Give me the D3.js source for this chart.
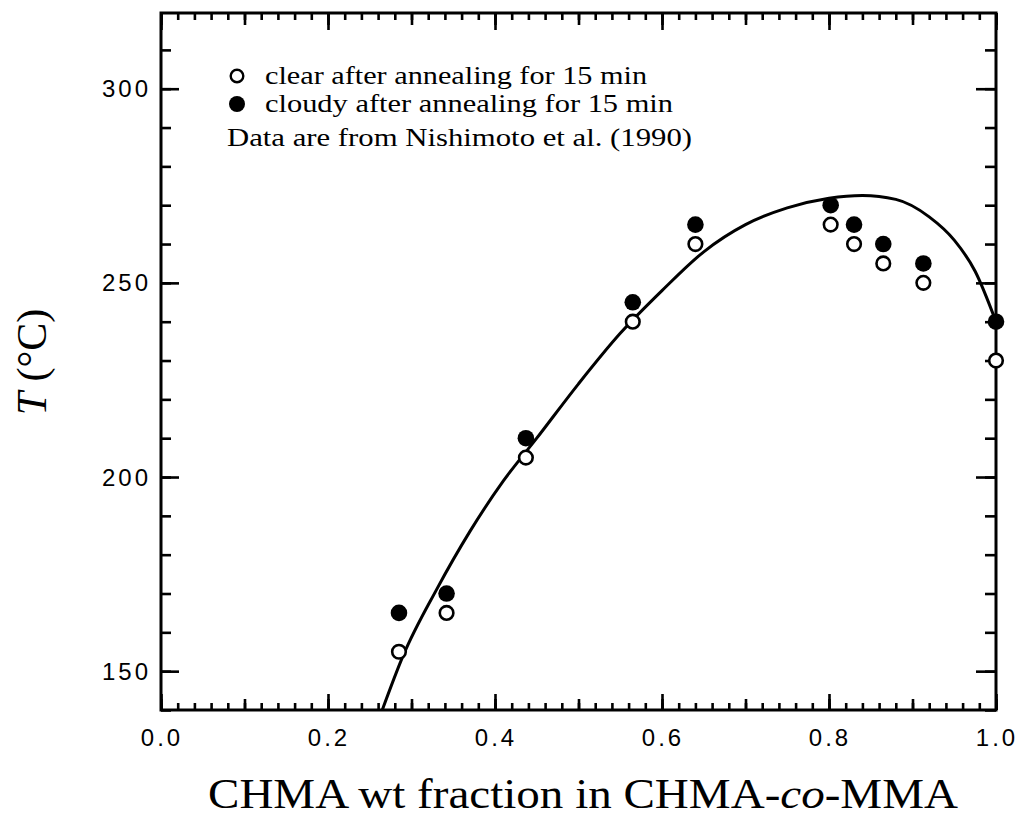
<!DOCTYPE html>
<html>
<head>
<meta charset="utf-8">
<script src="https://cdn.jsdelivr.net/npm/d3@7"></script>
<style>
  body { margin: 0; background: #fff; }
  svg { display: block; }
</style>
</head>
<body>
<div class="chart"></div>
<script>
// data
const fraction = [0.285, 0.342, 0.437, 0.565, 0.64, 0.802, 0.83, 0.865, 0.913, 1.0]
const clearT = [155, 165, 205, 240, 260, 265, 260, 255, 250, 230]
const cloudyT = [165, 170, 210, 245, 265, 270, 265, 260, 255, 240]

// fitted curve as drawn
const curveX = [0.265, 0.29, 0.33, 0.37, 0.41, 0.45, 0.5, 0.55, 0.6, 0.65, 0.7, 0.75, 0.8, 0.84, 0.88, 0.92, 0.95, 0.975, 1.0]
const curveT = [140, 154, 171, 186, 199, 210, 224, 237, 248, 258, 265, 269.3, 271.8, 272.5, 271.5, 267, 261, 253, 240]

const xTickLabels = [0, 0.2, 0.4, 0.6, 0.8, 1.0]
const yTickLabels = [150, 200, 250, 300]
const legendLabels = ['clear after annealing for 15 min', 'cloudy after annealing for 15 min']
const legendWidths = [382, 408]

const dimensions = {
    width: 1019,
    height: 820,
    left: 161,
    right: 996,
    top: 13,
    bottom: 710
}

const svg = d3.select('.chart')
    .append('svg')
    .attr('width', dimensions.width)
    .attr('height', dimensions.height)

const x = d3.scaleLinear().domain([0, 1]).range([dimensions.left, dimensions.right])
const y = d3.scaleLinear().domain([140, 319.5]).range([dimensions.bottom, dimensions.top])

const sansFont = '"Liberation Sans", Arial, Helvetica, sans-serif'
const serifFont = '"Liberation Serif", "Times New Roman", Times, serif'

// tick marks, all pointing inward
const minorX = d3.range(0, 51).map(i => i / 50)
const midX = d3.range(0, 11).map(i => i / 10)
const majorX = d3.range(0, 6).map(i => i / 5)
const minorY = d3.range(140, 320, 10)
const majorY = d3.range(150, 320, 50)

function tickLayer(axis, transform) {
    const g = svg.append('g')
        .attr('transform', transform)
        .call(axis)
    g.select('.domain').remove()
    g.selectAll('text').remove()
    g.selectAll('line').attr('stroke', '#000').attr('stroke-width', 2.6)
    return g
}

const bottomT = `translate(0,${dimensions.bottom})`
const topT = `translate(0,${dimensions.top})`
const leftT = `translate(${dimensions.left},0)`
const rightT = `translate(${dimensions.right},0)`

tickLayer(d3.axisBottom(x).tickValues(minorX).tickSize(-7), bottomT)
tickLayer(d3.axisBottom(x).tickValues(midX).tickSize(-11), bottomT)
tickLayer(d3.axisBottom(x).tickValues(majorX).tickSize(-16), bottomT)
tickLayer(d3.axisTop(x).tickValues(minorX).tickSize(-7), topT)
tickLayer(d3.axisTop(x).tickValues(midX).tickSize(-12), topT)
tickLayer(d3.axisTop(x).tickValues(majorX).tickSize(-17), topT)
tickLayer(d3.axisLeft(y).tickValues(minorY).tickSize(-10), leftT)
tickLayer(d3.axisLeft(y).tickValues(majorY).tickSize(-18), leftT)
tickLayer(d3.axisRight(y).tickValues(minorY).tickSize(-11), rightT)
tickLayer(d3.axisRight(y).tickValues(majorY).tickSize(-20), rightT)

// frame
svg.append('rect')
    .attr('x', dimensions.left)
    .attr('y', dimensions.top)
    .attr('width', dimensions.right - dimensions.left)
    .attr('height', dimensions.bottom - dimensions.top)
    .attr('fill', 'none')
    .attr('stroke', '#000')
    .attr('stroke-width', 3)

// tick labels
svg.append('g')
    .selectAll('text')
    .data(xTickLabels)
    .join('text')
    .attr('x', d => x(d) + 1)
    .attr('y', 746)
    .attr('text-anchor', 'middle')
    .attr('font-family', sansFont)
    .attr('font-size', 24)
    .attr('letter-spacing', 3)
    .text(d => d.toFixed(1))

svg.append('g')
    .selectAll('text')
    .data(yTickLabels)
    .join('text')
    .attr('x', 151)
    .attr('y', d => y(d) + 8.5)
    .attr('text-anchor', 'end')
    .attr('font-family', sansFont)
    .attr('font-size', 24)
    .attr('letter-spacing', 3)
    .text(d => d)

// fitted curve
svg.append('clipPath')
    .attr('id', 'plot-clip')
    .append('rect')
    .attr('x', dimensions.left)
    .attr('y', dimensions.top)
    .attr('width', dimensions.right - dimensions.left)
    .attr('height', dimensions.bottom - dimensions.top)

const curveData = curveX.map((d, i) => [d, curveT[i]])
const line = d3.line()
    .x(d => x(d[0]))
    .y(d => y(d[1]))
    .curve(d3.curveMonotoneX)

svg.append('path')
    .datum(curveData)
    .attr('clip-path', 'url(#plot-clip)')
    .attr('d', line)
    .attr('fill', 'none')
    .attr('stroke', '#000')
    .attr('stroke-width', 3)

// points
svg.append('g')
    .selectAll('circle')
    .data(fraction.map((d, i) => [d, clearT[i]]))
    .join('circle')
    .attr('cx', d => x(d[0]))
    .attr('cy', d => y(d[1]))
    .attr('r', 6.8)
    .attr('fill', '#fff')
    .attr('stroke', '#000')
    .attr('stroke-width', 2.6)

svg.append('g')
    .selectAll('circle')
    .data(fraction.map((d, i) => [d, cloudyT[i]]))
    .join('circle')
    .attr('cx', d => x(d[0]))
    .attr('cy', d => y(d[1]))
    .attr('r', 8.3)
    .attr('fill', '#000')

// legend
const legend = svg.append('g')
legend.append('circle')
    .attr('cx', 237).attr('cy', 76).attr('r', 6.3)
    .attr('fill', '#fff').attr('stroke', '#000').attr('stroke-width', 2.4)
legend.append('circle')
    .attr('cx', 237).attr('cy', 104).attr('r', 8)
    .attr('fill', '#000')
legend.selectAll('text')
    .data(legendLabels)
    .join('text')
    .attr('x', 265)
    .attr('y', (d, i) => 84 + i * 28)
    .attr('font-family', serifFont)
    .attr('font-size', 26)
    .attr('textLength', (d, i) => legendWidths[i])
    .attr('lengthAdjust', 'spacingAndGlyphs')
    .text(d => d)

svg.append('text')
    .attr('x', 227)
    .attr('y', 146)
    .attr('font-family', serifFont)
    .attr('font-size', 26)
    .attr('textLength', 465)
    .attr('lengthAdjust', 'spacingAndGlyphs')
    .text('Data are from Nishimoto et al. (1990)')

// axis titles
const xTitle = svg.append('text')
    .attr('x', 208)
    .attr('y', 808)
    .attr('font-family', serifFont)
    .attr('font-size', 43)
    .attr('textLength', 750)
    .attr('lengthAdjust', 'spacingAndGlyphs')
xTitle.append('tspan').text('CHMA wt fraction in CHMA-')
xTitle.append('tspan').attr('font-style', 'italic').text('co')
xTitle.append('tspan').text('-MMA')

const yTitle = svg.append('text')
    .attr('transform', 'translate(46,362) rotate(-90)')
    .attr('text-anchor', 'middle')
    .attr('font-family', serifFont)
    .attr('font-size', 42)
yTitle.append('tspan').attr('font-style', 'italic').text('T')
yTitle.append('tspan').text(' (°C)')
</script>
</body>
</html>
